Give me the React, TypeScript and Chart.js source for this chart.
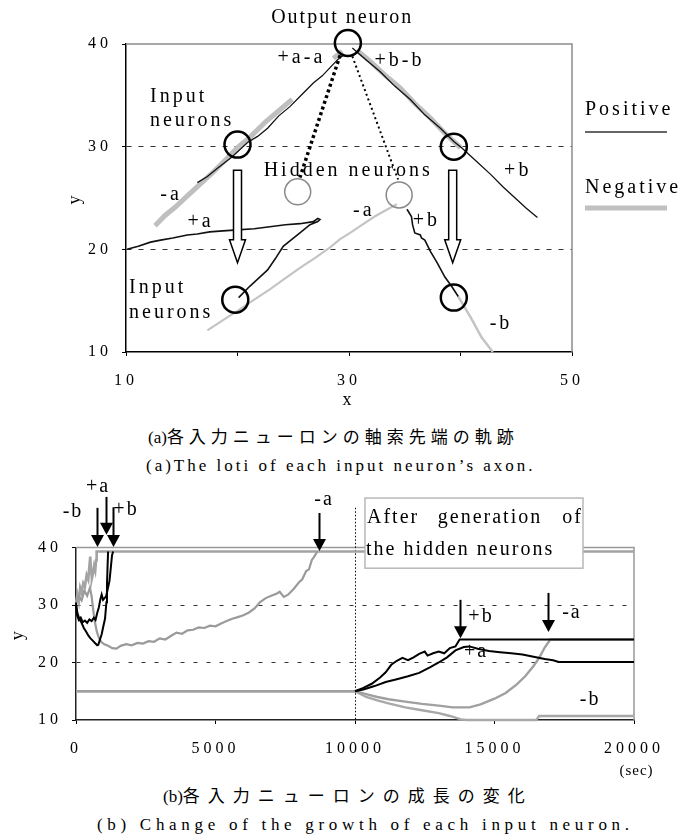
import React, { useEffect, useRef } from 'react';
import { Chart, registerables } from 'chart.js';

Chart.register(...registerables);

type Pt = [number, number];

// ================= (a) loci of each input neuron's axon tip =================
const lociXTicks = [10, 20, 30, 40, 50];
const lociXTickLabels = ['10', '', '30', '', '50'];
const lociYTicks = [10, 20, 30, 40];

// stage 1: input neurons near y = 30 grow toward the output neuron
const lociPlusAStage1: Pt[] = [[16.4, 26.5], [17.3, 27.1], [18.2, 27.9], [19.5, 29.0], [20.9, 30.4], [21.8, 31.0], [22.7, 31.8], [23.7, 33.0], [24.7, 33.9], [25.8, 35.1], [26.8, 36.2], [27.6, 36.9], [28.3, 37.7], [29.0, 38.5], [29.5, 38.9]];
const lociMinusAStage1: Pt[] = [[12.6, 22.3], [13.5, 23.3], [14.4, 24.1], [15.5, 25.2], [16.6, 26.3], [17.9, 27.6], [19.1, 28.9], [20.0, 29.9], [21.2, 31.0], [22.5, 32.4], [23.7, 33.5], [24.9, 34.6]];
const lociMinusAStage1Tip: Pt[] = [[28.6, 38.6], [29.4, 39.3]];
const lociPlusBStage1: Pt[] = [[30.3, 39.6], [31.5, 38.5], [32.8, 37.3], [34.1, 35.9], [35.5, 34.6], [36.8, 33.1], [38.2, 31.8], [39.4, 30.5], [40.1, 29.9], [41.4, 28.6], [42.7, 27.3], [43.8, 26.1], [44.9, 25.0], [45.9, 24.0], [46.9, 23.1]];
const lociMinusBStage1: Pt[] = [[30.7, 39.4], [31.9, 38.3], [33.2, 37.0], [34.6, 35.7], [35.9, 34.2], [37.3, 32.8], [38.6, 31.3], [40.0, 29.9]];

// stage 2: input neurons near y = 15 grow toward the hidden neurons
const lociPlusAStage2: Pt[] = [[20.1, 15.3], [21.1, 16.4], [22.0, 17.3], [22.7, 18.0], [23.4, 19.1], [24.1, 20.3], [24.9, 21.0], [25.6, 21.6], [26.5, 22.4], [27.2, 22.7], [27.4, 22.9], [27.2, 23.0], [26.8, 22.7], [25.6, 22.5], [24.3, 22.4], [22.9, 22.2], [21.5, 22.0], [20.0, 21.9], [18.7, 21.8], [17.5, 21.7], [16.4, 21.5], [15.5, 21.4], [14.2, 21.1], [13.1, 20.9], [12.2, 20.7], [11.1, 20.3], [10.1, 20.0]];
const lociMinusAStage2: Pt[] = [[17.3, 12.1], [18.7, 13.1], [20.0, 14.0], [21.5, 15.1], [22.9, 16.1], [24.3, 17.2], [25.6, 18.2], [27.0, 19.2], [28.3, 20.2], [29.2, 21.0], [30.1, 21.6], [31.2, 22.4], [32.3, 23.2], [33.3, 23.8], [34.3, 24.4]];
const lociPlusBStage2: Pt[] = [[35.2, 23.9], [35.6, 23.2], [35.7, 22.4], [35.9, 21.6], [36.4, 21.4], [36.5, 21.1], [36.8, 20.9], [37.3, 19.8], [37.9, 18.7], [38.6, 17.3], [39.2, 16.4], [39.8, 15.4]];
const lociMinusBStage2: Pt[] = [[39.8, 15.4], [40.9, 13.4], [41.9, 11.4], [42.9, 10.0]];

// neurons and connections
const outputNeuron: Pt[] = [[29.9, 40.1]];
const inputNeurons: Pt[] = [[20.0, 30.2], [39.4, 30.0], [19.8, 15.1], [39.4, 15.3]];
const hiddenNeurons: Pt[] = [[25.4, 25.6], [34.5, 25.3]];
const linkToHidden1: Pt[] = [[29.2, 38.9], [25.6, 27.0]];
const linkToHidden2: Pt[] = [[30.3, 38.8], [34.4, 26.8]];

// annotations (data units)
const lociArrowX = [20.0, 39.3];
const lociArrowFrom = 27.7;
const lociArrowTo = 18.7;
const lociLabelText = ['Output neuron', '+a-a', '+b-b', 'Input', 'neurons', 'Hidden neurons', '+b', '-a', '+a', 'Input', 'neurons', '-a', '+b', '-b'];
const lociLabelX = [29.3, 25.6, 34.4, 12.15, 12.15, 29.8, 45.0, 13.9, 16.55, 10.27, 10.27, 31.2, 36.8, 43.5];
const lociLabelY = [42.6, 38.7, 38.4, 34.9, 32.5, 27.7, 27.7, 25.3, 22.7, 16.3, 13.8, 23.8, 22.8, 12.8];
const lociLabelAlign = ['center', 'center', 'center', 'left', 'left', 'center', 'center', 'center', 'center', 'left', 'left', 'center', 'center', 'center'];
const legendNames = ['Positive', 'Negative'];

// ================= (b) growth of each input neuron over time =================
const growthXTicks = [0, 5000, 10000, 15000, 20000];
const growthYTicks = [10, 20, 30, 40];

const growthPlusAStage1: Pt[] = [[0, 30.0], [50, 28.6], [120, 27.6], [200, 26.9], [280, 26.0], [360, 25.4], [440, 24.7], [520, 24.2], [600, 23.8], [680, 23.4], [760, 23.0], [800, 23.1], [860, 24.0], [920, 24.9], [980, 26.3], [1040, 27.6], [1090, 30.5], [1110, 33.5], [1130, 36.5], [1150, 39.3]];
const growthPlusBStage1: Pt[] = [[0, 30.4], [40, 28.2], [100, 27.4], [170, 27.8], [240, 27.0], [320, 27.3], [400, 26.9], [480, 27.5], [560, 27.2], [640, 27.8], [700, 27.4], [760, 28.6], [820, 29.6], [870, 30.9], [920, 31.8], [970, 30.9], [1020, 31.2], [1080, 31.5], [1140, 32.8], [1200, 34.2], [1250, 36.6], [1290, 38.6], [1330, 39.3]];
const growthMinusBStage1: Pt[] = [[0, 30.4], [50, 31.8], [100, 30.6], [150, 33.0], [200, 32.2], [260, 33.8], [320, 33.2], [380, 35.2], [440, 34.4], [480, 36.8], [510, 38.4], [540, 36.0], [570, 34.6], [610, 35.5], [650, 36.8], [690, 36.0], [720, 37.8], [740, 39.3], [20000, 39.3]];
const growthMinusAStage1: Pt[] = [[0, 30.2], [100, 31.5], [200, 30.8], [300, 32.5], [400, 31.6], [500, 33.0], [560, 31.5], [620, 29.0], [680, 27.0], [740, 25.5], [820, 24.3], [900, 23.6], [1000, 23.2], [1150, 22.9], [1300, 22.5], [1450, 22.4], [1600, 22.9], [1800, 23.2], [2000, 23.0], [2200, 23.4], [2400, 23.3], [2600, 23.7], [2800, 23.6], [3000, 24.2], [3200, 24.0], [3400, 24.6], [3600, 25.2], [3800, 25.0], [4000, 25.6], [4200, 25.7], [4400, 26.1], [4600, 26.0], [4800, 26.4], [5000, 26.3], [5200, 26.8], [5400, 27.2], [5600, 27.6], [5800, 27.9], [6000, 28.2], [6200, 28.7], [6400, 29.4], [6600, 30.5], [6800, 31.2], [7000, 31.6], [7200, 32.0], [7300, 32.3], [7450, 31.4], [7600, 31.8], [7800, 32.8], [8000, 34.0], [8100, 34.4], [8250, 35.9], [8350, 36.2], [8450, 37.8], [8550, 38.5], [8650, 39.3]];

const growthPlusAStage2: Pt[] = [[10000, 15.0], [10300, 15.3], [10700, 15.9], [11100, 16.6], [11500, 17.1], [11900, 17.6], [12300, 18.2], [12700, 19.2], [13000, 20.0], [13300, 20.9], [13600, 22.1], [13900, 22.7], [14100, 22.8], [14400, 22.4], [14800, 22.0], [15200, 21.8], [15600, 21.6], [16000, 21.4], [16400, 21.0], [16800, 20.6], [17100, 20.4], [17300, 20.1], [20000, 20.1]];
const growthPlusBStage2: Pt[] = [[10000, 15.0], [10300, 15.6], [10600, 16.3], [10900, 17.4], [11100, 18.3], [11300, 19.6], [11500, 20.3], [11700, 20.8], [11900, 20.4], [12100, 20.9], [12300, 21.5], [12500, 21.9], [12600, 21.2], [12800, 21.6], [13000, 21.9], [13200, 21.6], [13400, 22.5], [13600, 22.8], [13750, 24.0], [20000, 24.0]];
const growthMinusAStage2: Pt[] = [[0, 15.0], [10000, 15.0], [10400, 14.5], [10800, 14.0], [11200, 13.6], [11800, 13.2], [12400, 12.8], [13000, 12.5], [13500, 12.2], [14100, 12.2], [14500, 12.7], [15000, 13.7], [15400, 14.7], [15800, 16.2], [16100, 17.6], [16400, 19.4], [16600, 20.8], [16800, 22.6], [17000, 24.0], [20000, 24.0]];
const growthMinusBStage2: Pt[] = [[0, 15.0], [10000, 15.0], [10400, 14.0], [10800, 13.4], [11200, 12.9], [11800, 12.2], [12400, 11.7], [13000, 11.2], [13400, 10.7], [13800, 10.1], [14000, 10.0], [16500, 10.0], [16600, 10.7], [20000, 10.7]];

const hiddenGenerationTime = 10000;
const hiddenGenerationLineTop = 46.9;
const arrivalTimes = [740, 1060, 1340, 8700, 13775, 16930];
const arrivalTips = [40.1, 42.2, 40.1, 39.4, 24.2, 25.3];
const arrivalTails = [46.9, 48.8, 47.0, 46.0, 30.9, 32.1];
const growthLabelText = ['-b', '+a', '+b', '-a', '+b', '-a', '+a', '-b'];
const growthLabelT = [-143, 753, 1756, 8853, 14480, 17740, 14300, 18390];
const growthLabelV = [46.2, 50.5, 46.5, 48.3, 27.9, 28.6, 21.8, 13.5];
const noteLines = [['After', 'generation', 'of'], ['the hidden neurons']];
const noteBoxT = [10358, 18172];
const noteBoxV = [48.6, 36.4];

// ================= helpers =================
const SERIF = '"Liberation Serif", "Times New Roman", serif';
const pts = (a: Pt[]) => a.map(([x, y]) => ({ x, y }));

function drawText(ctx: any, text: string, x: number, y: number, size: number, spacing: number, align: string = 'center', color = '#000') {
  ctx.save();
  ctx.font = `${size}px ${SERIF}`;
  ctx.letterSpacing = `${spacing}px`;
  ctx.fillStyle = color;
  ctx.textBaseline = 'middle';
  ctx.textAlign = align;
  const dx = align === 'center' ? spacing / 2 : align === 'right' ? spacing : 0;
  ctx.fillText(text, x + dx, y);
  ctx.restore();
}

function line(label: string, data: Pt[], color: string, width: number, order: number, dash: number[] = []) {
  return {
    label, data: pts(data), showLine: true, borderColor: color, borderWidth: width, borderDash: dash,
    pointRadius: 0, pointHoverRadius: 0, fill: false, tension: 0, order, clip: false,
  };
}

function circles(label: string, data: Pt[], color: string, width: number) {
  return {
    label, data: pts(data), showLine: false, pointStyle: 'circle', pointRadius: 13, pointHoverRadius: 13,
    pointBorderColor: color, pointBorderWidth: width, pointBackgroundColor: 'rgba(0,0,0,0)', order: 0, clip: false,
  };
}

function frame(chart: any, color: string) {
  const { ctx, chartArea: { left, top, right, bottom } } = chart;
  ctx.save();
  ctx.letterSpacing = '0px';
  ctx.strokeStyle = color;
  ctx.lineWidth = 1.5;
  ctx.beginPath();
  ctx.moveTo(left, top);
  ctx.lineTo(right, top);
  ctx.lineTo(right, bottom);
  ctx.stroke();
  ctx.restore();
}

const tickFont = { family: SERIF, size: 16 };

// ================= chart (a) =================
const lociPlugin = {
  id: 'lociDecor',
  beforeDraw(chart: any) { chart.ctx.letterSpacing = '4px'; },
  beforeDatasetsDraw(chart: any) { frame(chart, '#8c8c8c'); },
  afterDatasetsDraw(chart: any) {
    const { ctx, chartArea } = chart;
    const xs = chart.scales.x, ys = chart.scales.y;
    ctx.save();
    ctx.letterSpacing = '0px';
    // hollow down arrows
    lociArrowX.forEach((xv) => {
      const x = xs.getPixelForValue(xv);
      const yTop = ys.getPixelForValue(lociArrowFrom);
      const yTip = ys.getPixelForValue(lociArrowTo);
      const yHead = yTip - 23;
      ctx.beginPath();
      ctx.moveTo(x - 4, yTop);
      ctx.lineTo(x + 4, yTop);
      ctx.lineTo(x + 4, yHead);
      ctx.lineTo(x + 8, yHead);
      ctx.lineTo(x, yTip);
      ctx.lineTo(x - 8, yHead);
      ctx.lineTo(x - 4, yHead);
      ctx.closePath();
      ctx.fillStyle = '#fff';
      ctx.fill();
      ctx.strokeStyle = '#000';
      ctx.lineWidth = 1.5;
      ctx.stroke();
    });
    ctx.restore();
    lociLabelText.forEach((t, i) => {
      drawText(ctx, t, xs.getPixelForValue(lociLabelX[i]), ys.getPixelForValue(lociLabelY[i]), 20, i === 0 ? 2 : 3, lociLabelAlign[i]);
    });
    // legend on the right
    const lx = chartArea.right + 13;
    drawText(ctx, legendNames[0], lx, 110, 20, 3, 'left');
    drawText(ctx, legendNames[1], lx, 188, 20, 3, 'left');
    ctx.save();
    ctx.strokeStyle = '#333';
    ctx.lineWidth = 1.5;
    ctx.beginPath(); ctx.moveTo(lx, 132); ctx.lineTo(lx + 82, 132); ctx.stroke();
    ctx.strokeStyle = '#c0c0c0';
    ctx.lineWidth = 5;
    ctx.beginPath(); ctx.moveTo(lx, 208); ctx.lineTo(lx + 82, 208); ctx.stroke();
    ctx.restore();
  },
};

const lociConfig: any = {
  type: 'scatter',
  data: {
    datasets: [
      circles('Output neuron', outputNeuron, '#000', 2.5),
      circles('Input neurons', inputNeurons, '#000', 2.5),
      circles('Hidden neurons', hiddenNeurons, '#8a8a8a', 1.5),
      line('+a (stage 1)', lociPlusAStage1, '#111', 1.3, 1),
      line('+b (stage 1)', lociPlusBStage1, '#111', 1.3, 1),
      line('+a (stage 2)', lociPlusAStage2, '#111', 1.6, 1),
      line('+b (stage 2)', lociPlusBStage2, '#111', 1.6, 1),
      line('link 1', linkToHidden1, '#000', 3.5, 1, [3, 3]),
      line('link 2', linkToHidden2, '#000', 2, 1, [2, 3]),
      line('-a (stage 1)', lociMinusAStage1, '#bfbfbf', 5, 3),
      line('-a (stage 1) tip', lociMinusAStage1Tip, '#bfbfbf', 5, 3),
      line('-b (stage 1)', lociMinusBStage1, '#bfbfbf', 5, 3),
      line('-a (stage 2)', lociMinusAStage2, '#c4c4c4', 2.2, 3),
      line('-b (stage 2)', lociMinusBStage2, '#c4c4c4', 2.5, 3),
    ],
  },
  options: {
    animation: false,
    responsive: false,
    devicePixelRatio: 1,
    events: [],
    layout: { padding: { left: 0, top: 44, right: 110, bottom: 0 } },
    plugins: { legend: { display: false }, tooltip: { enabled: false } },
    scales: {
      x: {
        type: 'linear', min: 10, max: 50,
        afterBuildTicks: (s: any) => { s.ticks = lociXTicks.map((v) => ({ value: v })); },
        afterFit: (s: any) => { s.height = 68; },
        ticks: { callback: (_v: any, i: number) => lociXTickLabels[i], font: tickFont, color: '#000', padding: 15, maxRotation: 0, autoSkip: false },
        grid: { drawOnChartArea: false, tickLength: 4, tickColor: '#000', tickWidth: 1 },
        border: { color: '#000', width: 1.5 },
        title: { display: true, text: 'x', font: { family: SERIF, size: 18 }, color: '#000', padding: { top: 0, bottom: 9 } },
      },
      y: {
        type: 'linear', min: 10, max: 40,
        afterBuildTicks: (s: any) => { s.ticks = lociYTicks.map((v) => ({ value: v })); },
        afterFit: (s: any) => { s.width = 126; },
        ticks: { font: tickFont, color: '#000', padding: 10, autoSkip: false },
        grid: {
          color: (c: any) => (c.tick && (c.tick.value === 20 || c.tick.value === 30) ? '#333' : 'rgba(0,0,0,0)'),
          lineWidth: 1, tickLength: 4, tickColor: '#000', tickWidth: 1,
        },
        border: { color: '#000', width: 1.5, dash: [5, 7] },
        title: { display: true, text: 'y', font: { family: SERIF, size: 18 }, color: '#000', padding: { top: 64, bottom: 0 } },
      },
    },
  },
  plugins: [lociPlugin],
};

// ================= chart (b) =================
const growthPlugin = {
  id: 'growthDecor',
  beforeDraw(chart: any) { chart.ctx.letterSpacing = '4px'; },
  beforeDatasetsDraw(chart: any) {
    frame(chart, '#999');
    const { ctx, chartArea } = chart;
    const xs = chart.scales.x, ys = chart.scales.y;
    const x = xs.getPixelForValue(hiddenGenerationTime);
    ctx.save();
    ctx.strokeStyle = '#000';
    ctx.lineWidth = 1;
    ctx.setLineDash([1.5, 2]);
    ctx.beginPath();
    ctx.moveTo(x + 0.5, ys.getPixelForValue(hiddenGenerationLineTop));
    ctx.lineTo(x + 0.5, chartArea.bottom);
    ctx.stroke();
    ctx.restore();
  },
  afterDatasetsDraw(chart: any) {
    const { ctx, chartArea } = chart;
    const xs = chart.scales.x, ys = chart.scales.y;
    ctx.save();
    ctx.letterSpacing = '0px';
    arrivalTimes.forEach((t, i) => {
      const x = Math.round(xs.getPixelForValue(t)) + 0.5;
      const yTop = ys.getPixelForValue(arrivalTails[i]);
      const yTip = ys.getPixelForValue(arrivalTips[i]);
      ctx.strokeStyle = '#000';
      ctx.fillStyle = '#000';
      ctx.lineWidth = 2;
      ctx.beginPath(); ctx.moveTo(x, yTop); ctx.lineTo(x, yTip - 11); ctx.stroke();
      ctx.beginPath();
      ctx.moveTo(x - 6.5, yTip - 12);
      ctx.lineTo(x + 6.5, yTip - 12);
      ctx.lineTo(x, yTip);
      ctx.closePath();
      ctx.fill();
    });
    // note box
    const bx0 = xs.getPixelForValue(noteBoxT[0]);
    const bx1 = xs.getPixelForValue(noteBoxT[1]);
    const by0 = ys.getPixelForValue(noteBoxV[0]);
    const by1 = ys.getPixelForValue(noteBoxV[1]);
    ctx.fillStyle = '#fff';
    ctx.fillRect(bx0, by0, bx1 - bx0, by1 - by0);
    ctx.strokeStyle = '#b8b8b8';
    ctx.lineWidth = 1.5;
    ctx.strokeRect(bx0, by0, bx1 - bx0, by1 - by0);
    ctx.restore();
    const l1y = by0 + 20, l2y = by0 + 52;
    drawText(ctx, noteLines[0][0], bx0 + 2, l1y, 20, 2, 'left');
    drawText(ctx, noteLines[0][1], (bx0 + bx1) / 2 + 15, l1y, 20, 2, 'center');
    drawText(ctx, noteLines[0][2], bx1 - 2, l1y, 20, 2, 'right');
    drawText(ctx, noteLines[1][0], bx0 + 1, l2y, 20, 2, 'left');
    growthLabelText.forEach((t, i) => {
      drawText(ctx, t, xs.getPixelForValue(growthLabelT[i]), ys.getPixelForValue(growthLabelV[i]), 20, 2, 'center');
    });
    drawText(ctx, '(sec)', xs.getPixelForValue(20000) + 2, chartArea.bottom + 51, 15, 1, 'center');
  },
};

const growthConfig: any = {
  type: 'scatter',
  data: {
    datasets: [
      line('+a (stage 1)', growthPlusAStage1, '#000', 2, 1),
      line('+b (stage 1)', growthPlusBStage1, '#000', 2, 1),
      line('+a (stage 2)', growthPlusAStage2, '#000', 2, 1),
      line('+b (stage 2)', growthPlusBStage2, '#000', 2, 1),
      line('-b (stage 1)', growthMinusBStage1, '#a3a3a3', 2.6, 3),
      line('-a (stage 1)', growthMinusAStage1, '#9a9a9a', 2.2, 2),
      line('-a (stage 2)', growthMinusAStage2, '#a0a0a0', 2.4, 2),
      line('-b (stage 2)', growthMinusBStage2, '#a8a8a8', 2.4, 3),
    ],
  },
  options: {
    animation: false,
    responsive: false,
    devicePixelRatio: 1,
    events: [],
    layout: { padding: { left: 0, top: 71.5, right: 48, bottom: 0 } },
    plugins: { legend: { display: false }, tooltip: { enabled: false } },
    scales: {
      x: {
        type: 'linear', min: 0, max: 20000,
        afterBuildTicks: (s: any) => { s.ticks = growthXTicks.map((v) => ({ value: v })); },
        afterFit: (s: any) => { s.height = 66; },
        ticks: { callback: (v: any) => String(v), font: tickFont, color: '#000', padding: 15, maxRotation: 0, autoSkip: false },
        grid: { drawOnChartArea: false, tickLength: 4, tickColor: '#000', tickWidth: 1 },
        border: { color: '#222', width: 1.5 },
      },
      y: {
        type: 'linear', min: 10, max: 40,
        afterBuildTicks: (s: any) => { s.ticks = growthYTicks.map((v) => ({ value: v })); },
        afterFit: (s: any) => { s.width = 76; },
        ticks: { font: tickFont, color: '#000', padding: 10, autoSkip: false },
        grid: {
          color: (c: any) => (c.tick && (c.tick.value === 20 || c.tick.value === 30) ? '#333' : 'rgba(0,0,0,0)'),
          lineWidth: 1, tickLength: 4, tickColor: '#000', tickWidth: 1,
        },
        border: { color: '#222', width: 1.5, dash: [4, 9] },
        title: { display: true, text: 'y', font: { family: SERIF, size: 18 }, color: '#000', padding: { top: 7, bottom: 0 } },
      },
    },
  },
  plugins: [growthPlugin],
};

const captionStyle = (left: number, top: number, spacing: number): React.CSSProperties => ({
  position: 'absolute', left, top, fontFamily: '"Liberation Serif", "Noto Sans CJK JP", serif',
  fontSize: 17, lineHeight: '20px', letterSpacing: `${spacing}px`, whiteSpace: 'nowrap', color: '#000',
});
const tight: React.CSSProperties = { letterSpacing: '0px' };

export default function App() {
  const refA = useRef<HTMLCanvasElement>(null);
  const refB = useRef<HTMLCanvasElement>(null);

  useEffect(() => {
    const a = new Chart(refA.current as HTMLCanvasElement, lociConfig);
    const b = new Chart(refB.current as HTMLCanvasElement, growthConfig);
    return () => { a.destroy(); b.destroy(); };
  }, []);

  return (
    <div style={{ position: 'absolute', left: 0, top: 0, width: 682, height: 840, background: '#fff', overflow: 'hidden' }}>
      <canvas ref={refA} width={682} height={420} style={{ position: 'absolute', left: 0, top: 0, width: 682, height: 420 }} />
      <div style={captionStyle(148, 428, 5)}><span style={tight}>(a)</span>各入力ニューロンの軸索先端の軌跡</div>
      <div style={captionStyle(146, 456, 3)}>(a)The loti of each input neuron’s axon.</div>
      <canvas ref={refB} width={682} height={310} style={{ position: 'absolute', left: 0, top: 476, width: 682, height: 310 }} />
      <div style={captionStyle(163, 787, 8)}><span style={tight}>(b)</span>各入力ニューロンの成長の変化</div>
      <div style={captionStyle(97, 815, 4.7)}>(b) Change of the growth of each input neuron.</div>
    </div>
  );
}
